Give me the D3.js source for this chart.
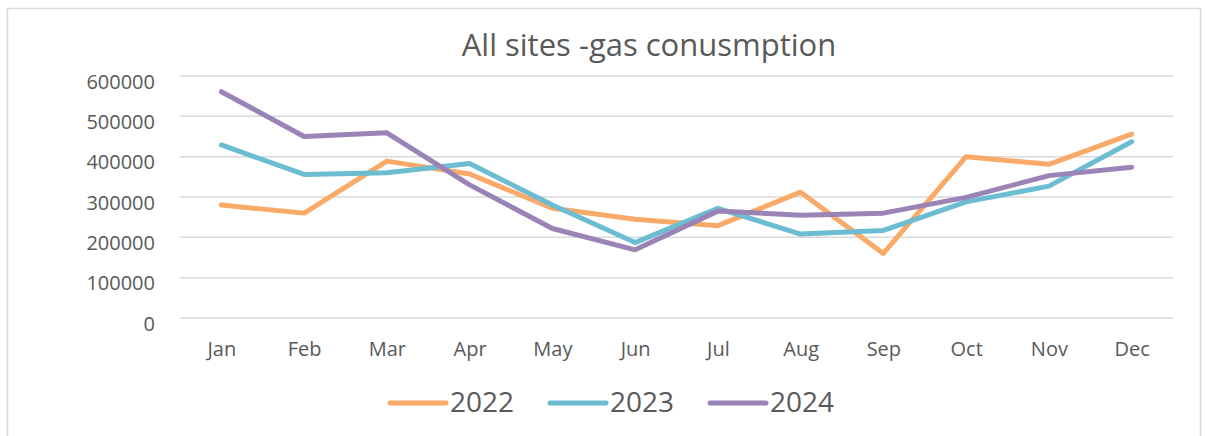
<!DOCTYPE html>
<html>
<head>
<meta charset="utf-8">
<script src="https://cdn.jsdelivr.net/npm/d3@7"></script>
<style>
  body { margin: 0; background: #fff; }
  text { font-family: "Open Sans", "Noto Sans", sans-serif; fill: #595959; }
</style>
</head>
<body>
<div id="chart"></div>
<script>
// data
var months = ["Jan", "Feb", "Mar", "Apr", "May", "Jun", "Jul", "Aug", "Sep", "Oct", "Nov", "Dec"];
var years = ["2022", "2023", "2024"];
var gas2022 = [280000, 260000, 389000, 357000, 272000, 245000, 229000, 312000, 160000, 400000, 381000, 456000];
var gas2023 = [429000, 356000, 360000, 383000, 280000, 187000, 272000, 208000, 217000, 288000, 327000, 437000];
var gas2024 = [561000, 450000, 459000, 330000, 222000, 169000, 265000, 255000, 260000, 299000, 353000, 374000];
var yTicks = [0, 100000, 200000, 300000, 400000, 500000, 600000];
var colors = ["#f9aa69", "#6cbcd2", "#9a84b7"];

var svgWidth = 1205;
var svgHeight = 436;

var svg = d3.select("#chart")
    .append("svg")
    .attr("width", svgWidth)
    .attr("height", svgHeight);

// chart frame
svg.append("rect")
    .attr("x", 7.5)
    .attr("y", 8.5)
    .attr("width", 1193)
    .attr("height", 440)
    .attr("fill", "none")
    .attr("stroke", "#d9d9d9")
    .attr("stroke-width", 1.5);

var xScale = d3.scalePoint().domain(months).range([180, 1173]).padding(0.5);
var yScale = d3.scaleLinear().domain([0, 600000]).range([318, 76]);

// gridlines
svg.append("g")
    .selectAll("line")
    .data(yTicks)
    .enter()
    .append("line")
    .attr("x1", 180)
    .attr("x2", 1173)
    .attr("y1", d => yScale(d))
    .attr("y2", d => yScale(d))
    .attr("stroke", "#d9d9d9")
    .attr("stroke-width", 1.5);

// y axis labels
var yAxis = d3.axisLeft(yScale).tickValues(yTicks).tickSize(0).tickPadding(0).tickFormat(d3.format("d"));
var yG = svg.append("g")
    .attr("transform", "translate(155,0)")
    .call(yAxis);
yG.select(".domain").remove();
yG.selectAll("text")
    .attr("font-family", null)
    .attr("font-size", "20px")
    .attr("dy", "0.6em");

// x axis labels
var xAxis = d3.axisBottom(xScale).tickSize(0).tickPadding(0);
var xG = svg.append("g")
    .attr("transform", "translate(0,340)")
    .call(xAxis);
xG.select(".domain").remove();
xG.selectAll("text")
    .attr("font-family", null)
    .attr("font-size", "20px")
    .attr("dy", "0.8em");

// lines
var series = [gas2022, gas2023, gas2024];
var line = d3.line()
    .x((d, i) => xScale(months[i]))
    .y(d => yScale(d));

svg.append("g")
    .selectAll("path")
    .data(series)
    .enter()
    .append("path")
    .attr("d", line)
    .attr("fill", "none")
    .attr("stroke", (d, i) => colors[i])
    .attr("stroke-width", 5)
    .attr("stroke-linejoin", "round")
    .attr("stroke-linecap", "round");

// title
svg.append("text")
    .attr("x", 649)
    .attr("y", 56)
    .attr("text-anchor", "middle")
    .attr("font-size", "31px")
    .text("All sites -gas conusmption");

// legend
var legendX = [390, 550, 710];
var legend = svg.append("g")
    .selectAll("g")
    .data(years)
    .enter()
    .append("g")
    .attr("transform", (d, i) => `translate(${legendX[i]}, 403)`);

legend.append("line")
    .attr("x1", 0)
    .attr("x2", 56)
    .attr("stroke", (d, i) => colors[i])
    .attr("stroke-width", 5)
    .attr("stroke-linecap", "round");

legend.append("text")
    .attr("x", 60)
    .attr("y", 9)
    .attr("font-size", "28px")
    .text(d => d);
</script>
</body>
</html>
